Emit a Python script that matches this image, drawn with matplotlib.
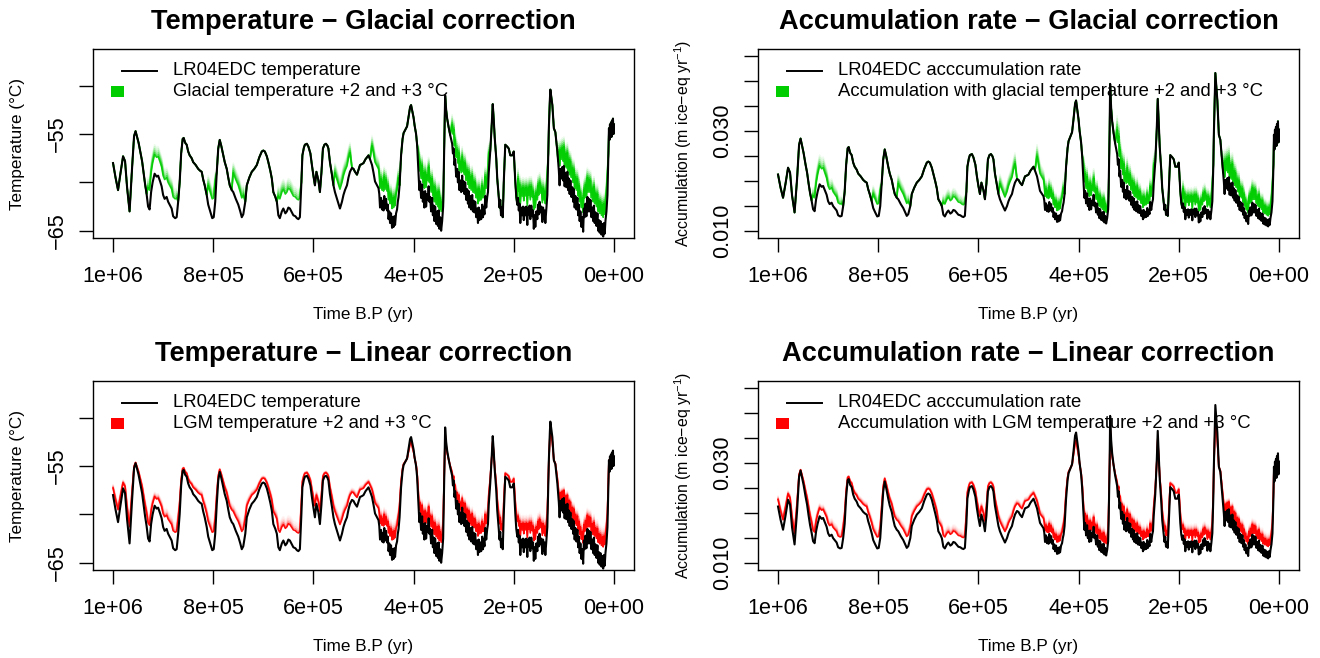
import numpy as np
import matplotlib
matplotlib.use("Agg")
import matplotlib.pyplot as plt
from matplotlib.patches import Rectangle

plt.rcParams['font.family'] = ['Liberation Sans', 'DejaVu Sans']
plt.rcParams['mathtext.fontset'] = 'custom'
plt.rcParams['mathtext.rm'] = 'Liberation Sans'
plt.rcParams['mathtext.it'] = 'Liberation Sans:italic'

# sample times (kyr B.P.), one segment per block
time_kyr = [
    1000, 995, 990, 985, 980, 976, 972, 967, 962, 958, 955, 952, 949, 945, 942, 939, 936, 933, 930, 927,
    924, 921, 917, 913, 910, 906, 903, 900, 897, 893, 890, 887, 883, 880, 876, 873, 870, 867, 864, 861,
    859, 856, 853, 850, 847, 843, 840, 835, 830, 826, 823, 820, 817, 813, 810, 806, 802, 799, 796, 793,
    790, 787, 784, 780, 777, 773, 770, 767, 763, 760, 755, 750, 746, 743, 740, 736, 733, 728, 723, 718,
    713, 708, 703, 700, 697, 693, 690, 686, 683, 680, 676, 673, 670, 667, 663, 660, 656, 653, 650, 647,
    643, 640, 636, 633, 630, 627, 624, 622, 619, 617, 613, 610, 606, 603, 600, 597, 594, 590, 587, 584,
    581, 578, 575, 572, 570, 567, 563, 560, 557, 553, 550, 547, 543, 540, 537, 533, 530, 527, 523, 520,
    517, 513, 510, 507, 503, 500, 496, 493, 490, 487, 483, 480, 477, 473, 470,
    468.5, 467, 465, 463, 461.5, 460, 458.5, 457, 455, 453, 451.5, 450, 448.5, 447, 445, 443, 441.5, 440,
    438.5, 437, 435, 433, 431.5, 430,
    428, 425, 422, 420, 416, 413, 410, 407, 405, 403, 400, 398, 395, 393,
    390, 388.5, 387, 385, 383, 381.5, 380, 378.5, 377, 375, 373, 371.5, 370, 368.5, 367, 365, 363, 361.5,
    360, 358.5, 357, 355, 353, 351.5, 350, 348.5, 347, 345, 343,
    341, 340, 338, 337, 335, 333, 330, 327,
    323, 321.5, 320, 318.5, 317, 315, 313, 311.5, 310, 308.5, 307, 305, 303, 301.5, 300, 298.5, 297, 295,
    293, 291.5, 290, 288.5, 287, 285, 283, 281.5, 280, 278.5, 277, 275, 273, 271.5, 270, 268.5, 267, 265,
    263, 261.5, 260, 258.5, 257, 255, 253, 251.5, 250,
    247, 244, 242, 240, 238,
    235, 233, 230, 228.5, 227, 225.5, 224, 222, 220,
    217, 213, 210, 207, 203, 200,
    197, 195, 193, 191.5, 190, 188.5, 187, 185, 183, 181.5, 180, 178.5, 177, 175, 173, 171.5, 170, 168.5,
    167, 165, 163, 161.5, 160, 158.5, 157, 155, 153, 151.5, 150, 148.5, 147, 145, 143, 141.5, 140, 138.5,
    137, 135, 133,
    131, 130, 128, 127, 125, 123, 120, 117,
    115, 113, 111.5, 110, 108.5, 107, 105, 103, 101.5, 100, 98.5, 97, 95, 93, 91.5, 90, 88.5, 87,
    85, 83, 81.5, 80, 78.5, 77, 75, 73, 71.5, 70, 68.5, 67, 65, 63, 61.5, 60, 58.5, 57,
    55, 53, 51.5, 50, 48.5, 47, 45, 43, 41.5, 40, 38.5, 37, 35, 33, 31.5, 30, 28.5, 27,
    25, 23, 21.5, 20, 18.5, 17, 15, 13,
    11, 10, 9, 8, 7, 6, 5, 4, 3, 2, 1, 0,
]

# LR04EDC temperature (deg C)
temp_c = [
    -58.0, -59.5, -60.8, -59.0, -57.3, -57.8, -60.5, -63.0, -58.5, -55.2, -54.7, -55.3, -55.9, -57.0, -57.8, -59.0, -60.2, -61.2, -62.5, -62.8,
    -61.0, -60.0, -59.1, -59.4, -59.3, -59.9, -60.4, -61.3, -61.7, -61.5, -62.0, -62.3, -62.7, -63.5, -63.7, -63.6, -62.0, -60.0, -57.0, -55.5,
    -55.4, -55.9, -56.1, -56.8, -57.2, -57.5, -57.9, -58.2, -58.6, -58.8, -58.9, -59.7, -60.3, -61.3, -62.3, -63.0, -63.7, -63.6, -62.0, -59.0,
    -56.5, -55.6, -56.2, -57.2, -57.9, -58.6, -59.5, -60.3, -60.8, -61.0, -61.7, -62.3, -63.0, -63.6, -63.3, -62.0, -60.3, -59.5, -58.9, -58.6,
    -58.2, -57.4, -56.8, -56.7, -56.8, -57.3, -57.9, -58.8, -59.6, -61.0, -61.5, -62.0, -63.4, -63.7, -63.0, -62.7, -63.2, -63.0, -62.6, -62.7,
    -63.1, -63.4, -63.5, -63.7, -63.8, -63.6, -60.0, -57.2, -56.4, -56.1, -56.0, -56.3, -57.0, -58.2, -59.3, -60.3, -58.9, -59.8, -61.0, -59.0,
    -56.5, -56.1, -56.0, -56.2, -56.5, -57.9, -59.2, -60.3, -61.0, -61.7, -62.2, -62.7, -62.0, -61.3, -60.8, -60.3, -59.5, -58.9, -58.5, -58.6,
    -58.9, -59.2, -58.7, -58.2, -58.1, -58.0, -57.6, -57.4, -57.2, -57.6, -58.2, -59.0, -59.9, -60.3, -60.6,
    -61.2, -62.6, -61.6, -62.8, -61.9, -62.9, -61.4, -62.7, -61.7, -62.9, -62.3, -63.8, -63.0, -64.2, -63.2, -64.7, -63.6, -64.6,
    -63.5, -64.4, -63.2, -62.8, -62.0, -61.5,
    -60.3, -57.2, -55.5, -54.9, -54.5, -54.2, -53.2, -52.2, -52.0, -52.5, -53.3, -54.1, -55.0, -56.1,
    -59.1, -60.8, -59.9, -61.6, -60.2, -62.0, -61.0, -62.6, -60.9, -62.5, -61.2, -61.8, -60.4, -62.0, -61.5, -63.0, -61.6, -63.4,
    -62.4, -64.0, -62.5, -64.3, -63.0, -64.5, -62.9, -64.8, -63.6, -65.0, -64.0,
    -62.5, -59.6, -54.0, -51.0, -52.5, -53.4, -54.3, -55.1,
    -56.0, -57.0, -56.5, -58.2, -57.6, -59.4, -58.6, -60.0, -58.9, -60.8, -59.8, -61.0, -59.3, -60.9, -59.9, -61.2, -60.0, -61.8,
    -60.7, -62.2, -60.9, -62.6, -61.4, -62.8, -61.3, -63.0, -61.9, -63.1, -62.0, -63.6, -62.7, -64.2, -62.6, -63.9, -62.9, -63.8,
    -62.3, -63.6, -62.6, -63.3, -61.4, -62.6, -61.5, -61.0, -59.0,
    -56.8, -54.0, -51.9, -53.5, -55.4,
    -57.5, -59.6, -61.5, -62.6, -61.8, -63.4, -62.6, -63.6, -60.0,
    -56.1, -56.3, -56.5, -57.2, -57.2, -56.8,
    -59.9, -61.5, -62.3, -61.6, -62.9, -62.2, -64.2, -62.6, -63.4, -62.5, -63.9, -62.6, -63.4, -62.5, -64.4, -62.6, -63.3, -62.4,
    -63.8, -62.4, -63.5, -62.9, -64.8, -63.4, -64.6, -63.0, -63.8, -62.3, -63.3, -62.0, -63.1, -62.5, -64.1, -62.6, -63.8, -62.9,
    -64.2, -62.8, -61.3,
    -57.0, -54.4, -51.5, -50.4, -51.2, -52.0, -54.4, -54.8,
    -55.8, -56.8, -57.8, -58.8, -60.3, -58.6, -59.6, -58.4, -59.8, -58.3, -60.4, -59.0, -60.5, -58.9, -60.8, -59.6, -61.2, -59.8,
    -61.5, -60.5, -62.0, -60.7, -62.6, -61.4, -62.8, -61.6, -63.4, -62.3, -64.0, -63.0, -64.6, -63.6, -65.1, -62.7, -63.6, -62.2,
    -63.5, -61.5, -63.0, -61.7, -63.0, -61.8, -63.6, -62.6, -64.0, -62.4, -64.2, -63.1, -64.5, -63.2, -65.0, -63.9, -65.2, -64.0,
    -65.4, -64.3, -65.6, -64.2, -65.3, -64.0, -63.0, -61.3,
    -57.0, -54.4, -55.6, -54.0, -55.2, -53.8, -55.3, -53.6, -54.9, -53.4, -55.0, -54.0,
]

# LR04EDC accumulation rate (m ice-eq / yr)
accum = [
    .02129, .01868, .01665, .01950, .02266, .02168, .01710, .01371, .02040, .02725, .02849, .02702, .02562, .02325, .02168, .01950, .01755, .01607, .01434, .01396,
    .01635, .01785, .01934, .01884, .01901, .01802, .01725, .01594, .01538, .01566, .01497, .01459, .01409, .01314, .01291, .01302, .01497, .01785, .02325, .02656,
    .02679, .02562, .02518, .02368, .02286, .02227, .02149, .02093, .02022, .01986, .01968, .01835, .01740, .01594, .01459, .01371, .01291, .01302, .01497, .01950,
    .02432, .02632, .02496, .02286, .02149, .02022, .01868, .01740, .01665, .01635, .01538, .01459, .01371, .01302, .01337, .01497, .01740, .01868, .01968, .02022,
    .02093, .02247, .02368, .02389, .02368, .02266, .02149, .01986, .01851, .01635, .01566, .01497, .01325, .01291, .01371, .01409, .01348, .01371, .01421, .01409,
    .01360, .01325, .01314, .01291, .01279, .01302, .01785, .02286, .02453, .02518, .02539, .02475, .02325, .02093, .01901, .01740, .01968, .01818, .01635, .01950,
    .02432, .02518, .02539, .02496, .02432, .02149, .01917, .01740, .01635, .01538, .01472, .01409, .01497, .01594, .01665, .01740, .01868, .01968, .02040, .02022,
    .01968, .01917, .02004, .02093, .02111, .02129, .02207, .02247, .02286, .02207, .02093, .01950, .01802, .01740, .01695,
    .01607, .01421, .01552, .01396, .01511, .01384, .01580, .01409, .01538, .01384, .01459, .01279, .01371, .01235, .01348, .01182, .01302, .01192,
    .01314, .01214, .01348, .01396, .01497, .01566,
    .01740, .02286, .02656, .02798, .02900, .02976, .03250, .03549, .03610, .03458, .03222, .03002, .02772, .02518,
    .01934, .01665, .01802, .01552, .01755, .01497, .01635, .01421, .01650, .01434, .01607, .01525, .01725, .01497, .01566, .01371, .01552, .01325,
    .01447, .01256, .01434, .01224, .01371, .01203, .01384, .01171, .01302, .01150, .01256,
    .01434, .01851, .03027, .03942, .03458, .03194, .02951, .02749,
    .02539, .02325, .02432, .02093, .02207, .01884, .02022, .01785, .01968, .01665, .01818, .01635, .01901, .01650, .01802, .01607, .01785, .01525,
    .01680, .01472, .01650, .01421, .01580, .01396, .01594, .01371, .01511, .01360, .01497, .01302, .01409, .01235, .01421, .01268, .01384, .01279,
    .01459, .01302, .01421, .01337, .01580, .01421, .01566, .01635, .01950,
    .02368, .03027, .03643, .03167, .02679,
    .02227, .01851, .01566, .01421, .01525, .01325, .01421, .01302, .01785,
    .02518, .02475, .02432, .02286, .02286, .02368,
    .01802, .01566, .01459, .01552, .01384, .01472, .01235, .01421, .01325, .01434, .01268, .01421, .01325, .01434, .01214, .01421, .01337, .01447,
    .01279, .01447, .01314, .01384, .01171, .01325, .01192, .01371, .01279, .01459, .01337, .01497, .01360, .01434, .01245, .01421, .01279, .01384,
    .01235, .01396, .01594,
    .02325, .02925, .03776, .04160, .03876, .03610, .02925, .02823,
    .02586, .02368, .02168, .01986, .01740, .02022, .01851, .02057, .01818, .02075, .01725, .01950, .01710, .01968, .01665, .01851, .01607, .01818,
    .01566, .01710, .01497, .01680, .01421, .01580, .01396, .01552, .01325, .01459, .01256, .01371, .01192, .01302, .01140, .01409, .01302, .01472,
    .01314, .01566, .01371, .01538, .01371, .01525, .01302, .01421, .01256, .01447, .01235, .01360, .01203, .01348, .01150, .01268, .01131, .01256,
    .01111, .01224, .01092, .01235, .01121, .01256, .01371, .01594,
    .02325, .02925, .02632, .03027, .02725, .03083, .02702, .03139, .02798, .03194, .02772, .03027,
]

# glacial intervals where the green correction shows (kyr B.P.)
glacial_periods = [(931, 873), (811, 796), (762, 737), (671, 627), (559, 527),
                   (483, 430), (391, 342), (323, 248), (192, 133), (111, 13)]
corr_low, corr_high = 2.0, 3.0      # "+2 and +3 degC"
linear_zero_temp = -54.4            # temperature where the linear correction vanishes
lgm_anomaly = 10.0                  # LGM cooling that gets the full correction
accum_sensitivity = 0.088           # d ln(accumulation) / dT

x_ticks = [1e6, 8e5, 6e5, 4e5, 2e5, 0]
x_tick_labels = ["1e+06", "8e+05", "6e+05", "4e+05", "2e+05", "0e+00"]
temp_ticks = [-65, -60, -55, -50]
temp_tick_labels = ["\u221265", "", "\u221255", ""]
accum_ticks = [0.010, 0.015, 0.020, 0.025, 0.030, 0.035, 0.040, 0.045]
accum_tick_labels = ["0.010", "", "", "", "0.030", "", "", ""]

GREEN = "#00CD00"
RED = "#FF0000"

t_kyr = np.array(time_kyr, dtype=float)
t_yr = t_kyr * 1000
T = np.array(temp_c)
A = np.array(accum)

glacial = np.zeros_like(T)
for start, end in glacial_periods:
    glacial[(t_kyr <= start) & (t_kyr >= end)] = 1.0
linear = (linear_zero_temp - T) / lgm_anomaly

W, H = 1320, 658
fig = plt.figure(figsize=(W / 100, H / 100), dpi=100)


def make_axes(left_px, bottom_px):
    return fig.add_axes([left_px / W, 1 - bottom_px / H, 541 / W, 189 / H])


def style_axes(ax, title, ylabel, yticks, ylabels, ylim, ylab_size):
    ax.set_xlim(1.04e6, -0.04e6)
    ax.set_ylim(*ylim)
    ax.set_xticks(x_ticks)
    ax.set_xticklabels(x_tick_labels, fontsize=15.6)
    ax.set_yticks(yticks)
    ax.set_yticklabels(ylabels, fontsize=15.6, rotation=90, va='center')
    ax.tick_params(axis='both', direction='out', length=10, width=1.0)
    ax.tick_params(axis='x', pad=10)
    ax.tick_params(axis='y', pad=8)
    for s in ax.spines.values():
        s.set_linewidth(1.0)
    ax.text(0.5, 1 + 27 / 189, title, transform=ax.transAxes, ha='center',
            va='center', fontsize=19.6, fontweight='bold')
    ax.set_xlabel("Time B.P (yr)", fontsize=12.3)
    ax.xaxis.set_label_coords(0.5, -77 / 189)
    ax.xaxis.label.set_va('center')
    ax.set_ylabel(ylabel, fontsize=ylab_size)
    ax.yaxis.set_label_coords(-75 / 541, 0.5)
    ax.yaxis.label.set_va('center')


def add_legend(ax, line_text, fill_text, color):
    ax.plot([29 / 541, 64 / 541], [0.885, 0.885], color='black', lw=1.4,
            transform=ax.transAxes)
    ax.add_patch(Rectangle((18 / 541, 0.745), 13 / 541, 11 / 189, color=color,
                           transform=ax.transAxes, lw=0))
    ax.text(80 / 541, 0.885, line_text, transform=ax.transAxes, fontsize=13.3, va='center')
    ax.text(80 / 541, 0.774, fill_text, transform=ax.transAxes, fontsize=13.3, va='center')


def draw_series(ax, base, bands, color, alphas):
    # correction band: +2 drawn solid, fading out towards +3
    levels = np.linspace(corr_low, corr_high, len(alphas))
    for k, a in zip(levels, alphas):
        ax.plot(t_yr, bands(k), color=color, lw=1.2, alpha=a)
    ax.plot(t_yr, base, color='black', lw=1.5)


green_alphas = [0.9, 0.55, 0.35, 0.22, 0.13, 0.07]
red_alphas = [0.95, 0.4, 0.2, 0.11, 0.06, 0.04]

temp_ylim = (-65.75, -46.2)
accum_ylim = (0.0086, 0.0464)
acc_label = "Accumulation (m ice\u2212eq yr$^{-1}$)"

ax1 = make_axes(93, 238)
draw_series(ax1, T, lambda k: T + k * glacial, GREEN, green_alphas)
style_axes(ax1, "Temperature \u2212 Glacial correction", "Temperature (\u00b0C)",
           temp_ticks, temp_tick_labels, temp_ylim, 12.3)
add_legend(ax1, "LR04EDC temperature", "Glacial temperature +2 and +3 \u00b0C", GREEN)

ax2 = make_axes(758, 238)
draw_series(ax2, A, lambda k: A * np.exp(accum_sensitivity * k * glacial), GREEN, green_alphas)
style_axes(ax2, "Accumulation rate \u2212 Glacial correction", acc_label,
           accum_ticks, accum_tick_labels, accum_ylim, 11.4)
add_legend(ax2, "LR04EDC acccumulation rate",
           "Accumulation with glacial temperature +2 and +3 \u00b0C", GREEN)

ax3 = make_axes(93, 570)
draw_series(ax3, T, lambda k: T + k * linear, RED, red_alphas)
style_axes(ax3, "Temperature \u2212 Linear correction", "Temperature (\u00b0C)",
           temp_ticks, temp_tick_labels, temp_ylim, 12.3)
add_legend(ax3, "LR04EDC temperature", "LGM temperature +2 and +3 \u00b0C", RED)

ax4 = make_axes(758, 570)
draw_series(ax4, A, lambda k: A * np.exp(accum_sensitivity * k * linear), RED, red_alphas)
style_axes(ax4, "Accumulation rate \u2212 Linear correction", acc_label,
           accum_ticks, accum_tick_labels, accum_ylim, 11.4)
add_legend(ax4, "LR04EDC acccumulation rate",
           "Accumulation with LGM temperature +2 and +3 \u00b0C", RED)

fig.savefig("out.png", dpi=100)
